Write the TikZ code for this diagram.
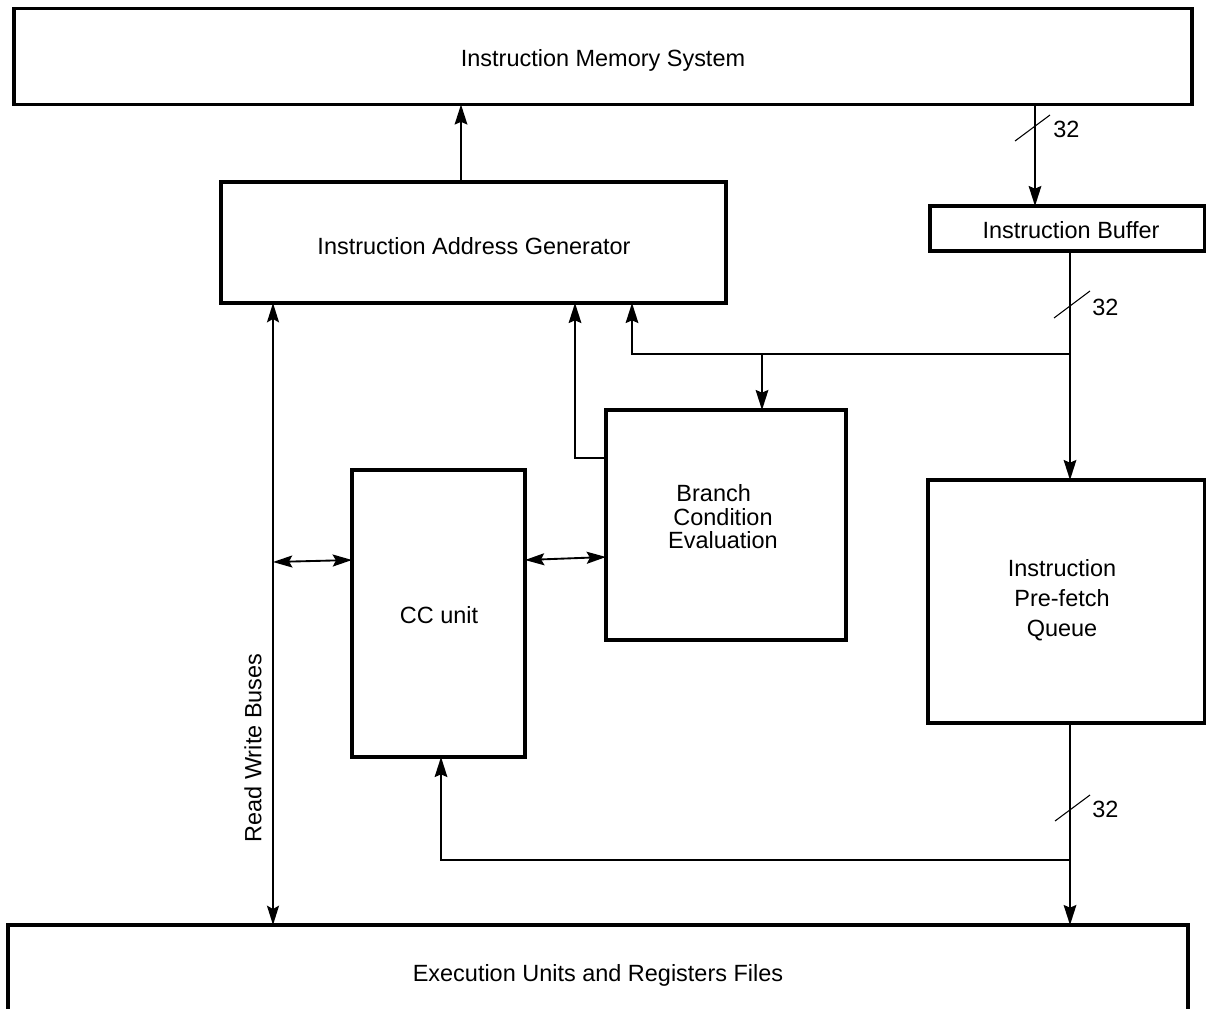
\documentclass[tikz,border=0pt]{standalone}
\usepackage{fontspec}
\setmainfont{Liberation Sans}
\usetikzlibrary{arrows.meta}

\tikzset{
  box/.style={draw, line width=2.3pt, inner sep=0pt, outer sep=0pt, align=center,
    font=\fontsize{17.6}{17.6}\selectfont},
  lbl/.style={inner sep=0.75pt, align=center, font=\fontsize{17.6}{17.6}\selectfont},
  arr/.style={line width=1.4pt, -{Stealth[length=15pt,width=9.5pt,inset=2pt]}},
  dbl/.style={line width=1.4pt,
    {Stealth[length=14.5pt,width=9pt,inset=2.5pt]}-{Stealth[length=14.5pt,width=9pt,inset=2.5pt]}},
  slash/.style={line width=0.8pt},
}

\begin{document}
\begin{tikzpicture}[x=0.75pt,y=0.75pt,yscale=-1,xscale=1]
\useasboundingbox (0,0) rectangle (1206,1008);

% Blocks
\node[box, minimum width=883.5pt, minimum height=72pt] (mem) at (603,56.5) {};
\node[box, minimum width=378.75pt, minimum height=90.75pt] (iag) at (473.5,242.5) {};
\node[box, minimum width=206.25pt, minimum height=33.75pt] (buf) at (1067.5,228.5) {};
\node[box, minimum width=180pt, minimum height=172.5pt] (brc) at (726,525) {};
\node[box, minimum width=129.75pt, minimum height=215.25pt] (cc) at (438.5,613.5) {};
\node[box, minimum width=207.75pt, minimum height=182.25pt] (pfq) at (1066.5,601.5) {};
\node[box, minimum width=885pt, minimum height=78.75pt] (exec) at (598,977.5) {};

% Text Node
\node[lbl] (memtext) at (603,60) {Instruction Memory System};
\node[lbl] (iagtext) at (474,246) {Instruction Address Generator};
\node[lbl] (buftext) at (1071,230) {Instruction Buffer};
\node[lbl] (cctext) at (439,615) {CC unit};
\node[lbl] (exectext) at (598,975) {Execution Units and Registers Files};
\node[lbl] (brctext) at (723,517) {Branch\kern14pt\\Condition\\Evaluation};
\node[lbl, font=\fontsize{17.6}{22.5}\selectfont] (pfqtext) at (1062,600) {Instruction\\Pre-fetch\\Queue};
\node[lbl, rotate=90] (rwb) at (253,748) {Read Write Buses};
\node[lbl, anchor=west] (w1) at (1052,129) {32};
\node[lbl, anchor=west] (w2) at (1091,307) {32};
\node[lbl, anchor=west] (w3) at (1091,809) {32};

% bus columns
\coordinate (c1) at (461,0);
\coordinate (c2) at (1035,0);
\coordinate (c3) at (1070,354);
\coordinate (c4) at (632,0);
\coordinate (c5) at (762,0);
\coordinate (c6) at (575,458);
\coordinate (c7) at (273,0);
\coordinate (c8) at (1070,860);
\coordinate (c9) at (441,0);

% Connectors
\draw[arr] (iag.north -| c1) -- (mem.south -| c1);
\draw[arr] (mem.south -| c2) -- (buf.north -| c2);
\draw[arr] (buf.south -| c3) -- (pfq.north -| c3);
\draw[arr] (c3) -| (iag.south -| c4);
\draw[arr] (c3 -| c5) -- (brc.north -| c5);
\draw[arr] (brc.west |- c6) -| (iag.south -| c6);
\draw[dbl] (iag.south -| c7) -- (exec.north -| c7);
\draw[dbl] (c7 |- 0,562) -- (cc.west |- 0,560);
\draw[dbl] (cc.east |- 0,560) -- (brc.west |- 0,557);
\draw[arr] (pfq.south -| c3) -- (exec.north -| c3);
\draw[arr] (c8) -| (cc.south -| c9);

% 32-bit marks
\draw[slash] (1032.5,128) +(-17.5,13) -- +(17.5,-13);
\draw[slash] (1072,304.5) +(-18,13.5) -- +(18,-13.5);
\draw[slash] (1072.5,808) +(-17.5,13) -- +(17.5,-13);

\end{tikzpicture}
\end{document}
